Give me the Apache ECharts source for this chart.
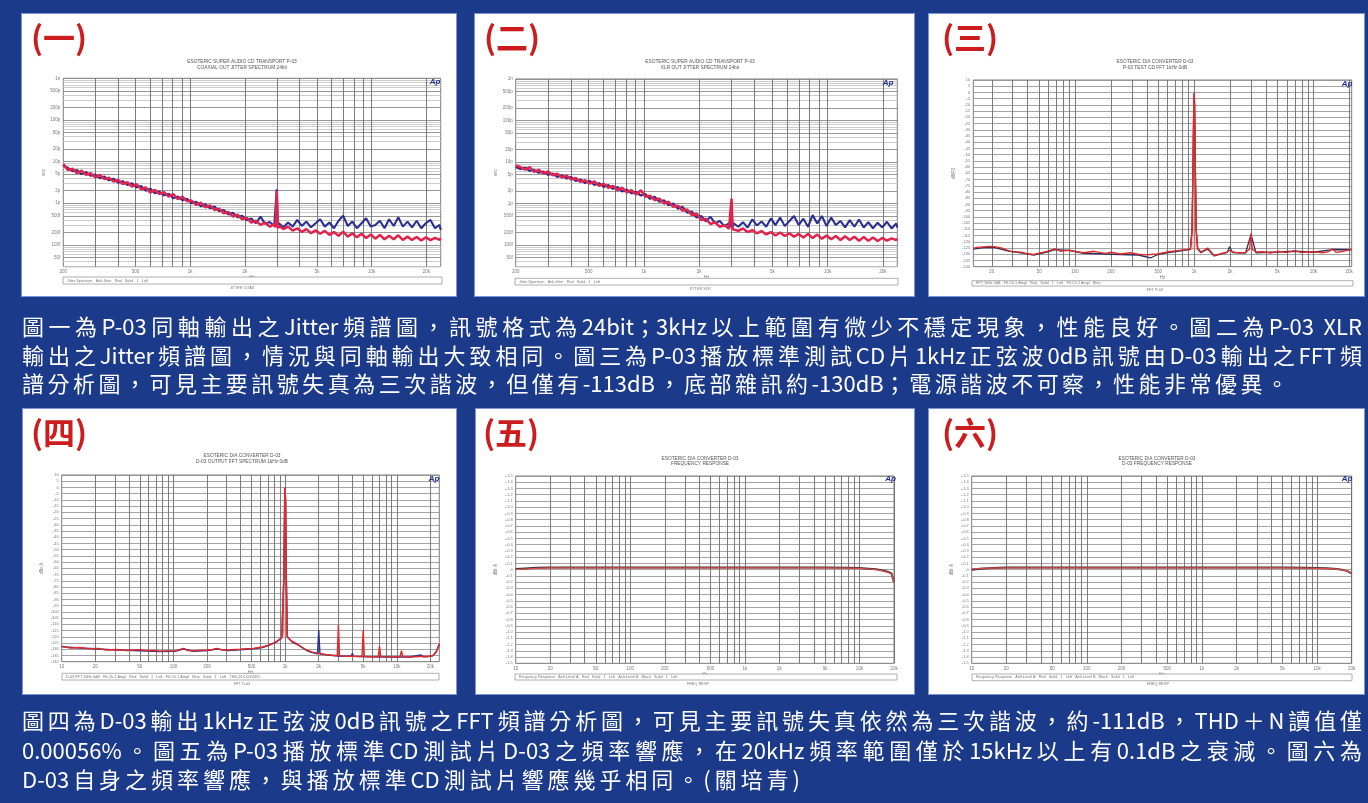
<!DOCTYPE html>
<html>
<head>
<meta charset="utf-8">
<title>P-03 / D-03 量測圖</title>
<script src="https://cdn.jsdelivr.net/npm/echarts@6/dist/echarts.min.js"></script>
<style>
  html, body { margin: 0; padding: 0; background: #1c3a8a; }
  #page { position: relative; width: 1368px; height: 803px; overflow: hidden; background: #1c3a8a; }
  .panel { position: absolute; background: #fff; border: 1px solid #7d95d6; box-sizing: border-box; }
  #chart { position: absolute; left: 0; top: 0; width: 1368px; height: 803px; }
  .cap { position: absolute; left: 22px; width: 1340px; color: #fff; white-space: nowrap;
         font-family: "Noto Sans CJK TC", "Noto Sans CJK SC", sans-serif; font-size: 22px; line-height: 28px;
         text-align: justify; text-align-last: justify; }
</style>
</head>
<body>
<div id="page">
  <div class="panel" style="left:21px;top:13px;width:436px;height:284px"></div>
  <div class="panel" style="left:474px;top:13px;width:441px;height:284px"></div>
  <div class="panel" style="left:928px;top:13px;width:437px;height:284px"></div>
  <div class="panel" style="left:22px;top:408px;width:435px;height:287px"></div>
  <div class="panel" style="left:475px;top:408px;width:440px;height:287px"></div>
  <div class="panel" style="left:928px;top:408px;width:437px;height:287px"></div>
  <div id="chart"></div>
  <div class="cap" style="top:311px">圖一為P-03同軸輸出之Jitter頻譜圖，訊號格式為24bit；3kHz以上範圍有微少不穩定現象，性能良好。圖二為P-03 XLR</div>
  <div class="cap" style="top:339.5px">輸出之Jitter頻譜圖，情況與同軸輸出大致相同。圖三為P-03播放標準測試CD片1kHz正弦波0dB訊號由D-03輸出之FFT頻</div>
  <div class="cap" style="top:368px;width:1266px">譜分析圖，可見主要訊號失真為三次諧波，但僅有-113dB，底部雜訊約-130dB；電源諧波不可察，性能非常優異。</div>
  <div class="cap" style="top:705px">圖四為D-03輸出1kHz正弦波0dB訊號之FFT頻譜分析圖，可見主要訊號失真依然為三次諧波，約-111dB，THD＋N讀值僅</div>
  <div class="cap" style="top:734.5px">0.00056%。圖五為P-03播放標準CD測試片D-03之頻率響應，在20kHz頻率範圍僅於15kHz以上有0.1dB之衰減。圖六為</div>
  <div class="cap" style="top:763.5px;width:778px">D-03自身之頻率響應，與播放標準CD測試片響應幾乎相同。(關培青)</div>
</div>
<script>
// ---------- Jitter spectra (Hz, picoseconds) ----------
const jitterFreq = [200,212,225,238,252,267,283,300,318,337,357,379,401,425,451,478,506,537,569,603,
  639,677,718,761,807,855,906,961,1018,1079,1144,1213,1285,1362,1444,1531,1623,1720,1823,1933,
  2049,2172,2302,2440,2586,2741,2906,2960,3000,3040,3080,3265,3461,3669,3889,4122,4370,4632,4910,5204,
  5517,5848,6198,6570,6965,7382,7825,8295,8792,9320,9879,10472,11100,11766,12472,13220,14013,14854,15745,16690,
  17691,18753,19878,21071,22335,23675,24000];

const coaxRed = [8.8,6.31,6.8,5.25,6.1,4.79,5.25,4.2,4.79,3.8,
  4.1,3.31,3.63,2.9,3.2,2.51,2.9,2.17,2.4,1.8,
  2.09,1.65,1.85,1.45,1.65,1.25,1.45,1.12,1.16,0.912,
  1.04,0.80,0.89,0.692,0.745,0.575,0.62,0.479,0.535,0.413,
  0.445,0.345,0.383,0.302,0.345,0.275,0.31,0.265,2.0,0.251,
  0.285,0.24,0.275,0.22,0.251,0.205,0.24,0.191,0.225,0.185,
  0.217,0.174,0.205,0.165,0.209,0.158,0.191,0.152,0.185,0.147,
  0.178,0.141,0.174,0.137,0.165,0.137,0.17,0.132,0.158,0.132,
  0.155,0.127,0.152,0.13,0.148,0.132,0.145];

const coaxBlue = [7.8,7.1,5.9,6.31,5.0,5.6,4.55,4.9,3.98,4.37,
  3.55,3.9,3.1,3.4,2.75,3.02,2.4,2.6,2.0,2.25,
  1.74,1.91,1.55,1.7,1.32,1.45,1.18,1.29,1.0,1.08,
  0.85,0.95,0.759,0.832,0.64,0.692,0.535,0.59,0.46,0.5,
  0.39,0.43,0.331,0.479,0.32,0.355,0.285,0.302,2.17,0.275,
  0.331,0.265,0.345,0.275,0.398,0.285,0.363,0.265,0.331,0.413,
  0.275,0.345,0.251,0.38,0.5,0.285,0.363,0.251,0.331,0.437,
  0.275,0.302,0.38,0.251,0.413,0.285,0.46,0.275,0.363,0.265,
  0.38,0.251,0.331,0.398,0.251,0.302,0.229];

const xlrRed = [8.32,7.59,6.5,7.59,5.75,6.5,5.25,5.9,4.79,5.25,
  4.2,4.7,3.8,4.1,3.31,3.63,3.02,3.4,2.65,3.02,
  2.4,2.65,2.09,2.4,1.85,2.09,1.65,2.09,1.45,1.55,
  1.2,1.32,1.0,1.1,0.832,0.89,0.67,0.72,0.525,0.575,
  0.398,0.43,0.32,0.355,0.275,0.302,0.247,0.275,1.32,0.24,
  0.265,0.22,0.251,0.205,0.229,0.191,0.217,0.18,0.205,0.17,
  0.2,0.165,0.191,0.158,0.185,0.152,0.185,0.147,0.178,0.141,
  0.17,0.137,0.165,0.132,0.162,0.132,0.158,0.127,0.155,0.127,
  0.152,0.125,0.148,0.127,0.145,0.132,0.141];

const xlrBlue = [7.59,6.8,7.3,6.1,6.5,5.5,5.9,4.9,5.25,4.37,
  4.79,3.98,4.37,3.5,3.8,3.1,3.5,2.8,3.1,2.51,
  2.8,2.25,2.51,1.95,2.17,1.74,1.91,1.55,1.7,1.29,
  1.45,1.1,1.2,0.912,1.0,0.745,0.832,0.6,0.64,0.46,
  0.5,0.37,0.479,0.331,0.38,0.285,0.331,0.275,0.692,0.265,
  0.331,0.275,0.355,0.265,0.413,0.296,0.37,0.275,0.437,0.302,
  0.46,0.285,0.38,0.5,0.302,0.43,0.275,0.525,0.331,0.5,
  0.285,0.46,0.302,0.38,0.265,0.398,0.275,0.413,0.265,0.355,
  0.251,0.345,0.265,0.363,0.251,0.331,0.265];

// ---------- FFT spectra (Hz, dB) ----------
const fft3Red = [[14,-125.2],[15,-124.5],[17,-124.0],[19,-123.6],[21,-123.9],[24,-124.8],[27,-126.6],[29,-127.9],
  [35,-128.3],[39,-129.5],[45,-130.2],[49,-129.3],[58,-127.6],[68,-125.6],[75,-127.6],[90,-126.6],[100,-127.6],
  [118,-128.8],[144,-127.6],[180,-129.3],[200,-128.2],[240,-129.8],[290,-128.8],[340,-130.0],[390,-130.5],
  [430,-130.2],[490,-129.8],[585,-128.2],[725,-127.1],[880,-126.0],[930,-125.5],[960,-110],[980,-50],[992,-8],
  [1000,-0.5],[1008,-8],[1020,-50],[1040,-110],[1070,-125.0],[1140,-128.2],[1300,-125.0],[1470,-131.0],
  [1680,-129.5],[1900,-128.0],[2000,-126.8],[2100,-128.2],[2400,-129.0],[2700,-128.5],[2920,-126],[3000,-113.2],
  [3080,-126],[3300,-128.2],[3800,-128.0],[4400,-129],[5000,-127.6],[6000,-128.5],[7000,-127.0],[8000,-128.6],
  [9000,-128.2],[10000,-127.9],[12000,-128.8],[13500,-127.8],[14500,-125.5],[15500,-128.5],[17000,-128.0],
  [19000,-127.0],[21000,-125.8]];

const fft3Dark = [[14,-125.8],[17,-124.6],[21,-124.4],[27,-127.2],[35,-128.8],[45,-130.6],[58,-128.2],[68,-126.2],
  [90,-127.0],[118,-129.2],[180,-129.8],[240,-130.2],[340,-130.6],[430,-133.0],[490,-130.4],[585,-128.8],
  [725,-127.6],[880,-126.5],[930,-126],[960,-111],[980,-52],[992,-9],[1000,-1],[1008,-9],[1020,-52],[1040,-111],
  [1070,-125.6],[1140,-128.8],[1300,-125.8],[1470,-131.4],[1900,-128.5],[1980,-124],[2000,-122.5],[2020,-124],
  [2100,-128.6],[2700,-129],[3000,-114],[3300,-128.8],[5000,-128.2],[7000,-127.6],[10000,-128.4],[14500,-126.2],
  [21000,-126.4]];

const fft4Red = [[10,-127.5],[11.9,-129],[14.6,-128.6],[17,-129.5],[21,-129.3],[25,-130.6],[31,-130.2],[38,-131],
  [44,-130.6],[51,-130.3],[58,-131.2],[66,-130.9],[76,-131.5],[87,-131.3],[103,-131.3],[112,-130.5],[123,-129.3],
  [135,-131],[151,-131.3],[175,-130.8],[203,-130.6],[225,-130.2],[244,-129.3],[270,-130.5],[311,-130.6],
  [350,-130.2],[395,-130.0],[450,-129.6],[520,-129.3],[580,-128.6],[627,-128.2],[690,-127.2],[734,-126.0],
  [800,-124.6],[842,-123.5],[890,-122.0],[933,-120.6],[955,-119],[975,-70],[990,-10],[1000,0],[1010,-10],
  [1025,-70],[1045,-119.5],[1070,-121.2],[1150,-123.5],[1270,-125.5],[1400,-128],[1560,-130.6],[1750,-132.3],
  [2050,-133.5],[2300,-134.2],[2530,-134.6],[2800,-135.0],[2930,-135.2],[3000,-110.5],[3070,-135.3],[3500,-135.6],
  [4100,-135.6],[4600,-135.8],[4880,-135.8],[5000,-114.5],[5120,-135.8],[6000,-136.0],[6830,-136],[7000,-127.5],
  [7170,-136],[8500,-136.1],[10000,-136],[10700,-136],[11000,-131.2],[11300,-136],[13000,-136.2],[15000,-136],
  [17000,-135.6],[19000,-135.8],[21000,-135],[22500,-132],[24000,-125.5]];

const fft4Blue = [[10,-128],[14.6,-129],[21,-129.8],[31,-130.6],[44,-131],[58,-131.5],[76,-131.8],[103,-131.6],
  [123,-129.8],[151,-131.6],[203,-131],[244,-129.8],[311,-131],[395,-130.4],[520,-129.7],[627,-128.6],[734,-126.4],
  [842,-124],[933,-121],[955,-119.5],[975,-72],[990,-12],[1000,-0.5],[1010,-12],[1025,-72],[1045,-120],
  [1070,-121.6],[1150,-124],[1270,-126],[1560,-131],[1750,-132.6],[1950,-133.6],[2000,-114.5],[2050,-133.8],
  [2530,-134.8],[3000,-135.4],[3500,-135.6],[3900,-135.6],[4000,-133.3],[4100,-135.7],[5000,-135.9],[6000,-136.1],
  [8500,-136.2],[10000,-136.1],[13000,-136.2],[16500,-134.6],[17200,-136],[19000,-135.9],[21000,-135.2],
  [22500,-132.4],[24000,-126]];

// ---------- Frequency responses (Hz, dB) ----------
const resp5Freq = [10,12,15,20,30,50,100,200,500,1000,2000,5000,8000,10000,12000,14000,15000,16000,17000,18000,19000,19500,20000];
const resp5Red  = [0.0,0.01,0.02,0.03,0.03,0.03,0.03,0.03,0.03,0.03,0.03,0.03,0.025,0.02,0.01,0.0,-0.01,-0.02,-0.035,-0.05,-0.07,-0.1,-0.19];
const resp5Dark = [0.01,0.02,0.03,0.035,0.035,0.035,0.035,0.035,0.035,0.035,0.035,0.035,0.03,0.025,0.015,0.005,-0.005,-0.015,-0.025,-0.04,-0.06,-0.09,-0.2];

const resp6Freq = [10,12,15,20,30,50,100,200,500,1000,2000,5000,8000,10000,12000,14000,16000,17000,18000,19000,20000];
const resp6Red  = [0.01,0.02,0.025,0.03,0.03,0.03,0.03,0.03,0.03,0.03,0.03,0.03,0.025,0.022,0.018,0.012,0.0,-0.01,-0.02,-0.035,-0.06];
const resp6Dark = [0.0,0.015,0.025,0.035,0.035,0.035,0.035,0.035,0.035,0.035,0.035,0.035,0.03,0.027,0.022,0.015,0.003,-0.008,-0.02,-0.038,-0.065];

// ---------- Grid lines and tick labels ----------
const jitterGridX  = [300,400,500,600,700,800,900,1000,2000,3000,4000,5000,6000,7000,8000,9000,10000,20000];
const jitterLabelX = [200,500,1000,2000,5000,10000,20000];
const audioGridX   = [20,30,40,50,60,70,80,90,100,200,300,400,500,600,700,800,900,
                      1000,2000,3000,4000,5000,6000,7000,8000,9000,10000,20000];
const audioLabelX  = [10,20,50,100,200,500,1000,2000,5000,10000,20000];
const jitterMajorY = [1000,500,200,100,50,20,10,5,2,1,0.5,0.2,0.1,0.05];
const jitterMinorY = [900,800,700,600,400,300,90,80,70,60,40,30,9,8,7,6,4,3,
                      0.9,0.8,0.7,0.6,0.4,0.3,0.09,0.08,0.07,0.06,0.04,0.03];

// ---------- Helpers ----------
const TINY = '"Liberation Sans", Arial, sans-serif';
const LABEL_GRAY = '#7a7a7a';
const pair = (xs, ys) => xs.map((x, i) => [x, ys[i]]);
const fmtHz = v => v >= 1000 ? (v / 1000) + 'k' : String(v);
const fmtPs = v => v >= 1000 ? (v / 1000) + 'n' : (v >= 1 ? Math.round(v) + 'p' : Math.round(v * 1000) + 'f');
const fmtDb1 = v => (v > 0.001 ? '+' : '') + (Math.abs(v) < 0.001 ? '0' : v.toFixed(1));

const option = {
  animation: false,
  backgroundColor: 'transparent',
  grid: [], xAxis: [], yAxis: [], series: [],
  graphic: { elements: [] }
};

function xLog(gi, min, max, grid, labels) {
  return {
    type: 'log', logBase: 10, gridIndex: gi, min: min, max: max,
    axisLine: { show: false },
    axisTick: { show: false, customValues: grid },
    splitLine: { show: true, lineStyle: { color: '#6e6e6e', width: 0.9 } },
    axisLabel: { customValues: labels, formatter: fmtHz, fontSize: 4.5, color: LABEL_GRAY, margin: 3, fontFamily: TINY },
    name: 'Hz', nameLocation: 'middle', nameGap: 9,
    nameTextStyle: { fontSize: 4.5, color: LABEL_GRAY, fontFamily: TINY }
  };
}

function yName(name) {
  return { name: name, nameLocation: 'middle', nameGap: 17, nameRotate: 90,
           nameTextStyle: { fontSize: 4.5, color: LABEL_GRAY, fontFamily: TINY } };
}

function jitterY(gi) {
  return [
    Object.assign({
      type: 'log', logBase: 10, gridIndex: gi, min: 0.03, max: 1000, position: 'left',
      axisLine: { show: false },
      axisTick: { show: false, customValues: jitterMajorY },
      splitLine: { show: true, lineStyle: { color: '#8c8c8c', width: 0.9 } },
      axisLabel: { customValues: jitterMajorY, formatter: fmtPs, fontSize: 4.5, color: LABEL_GRAY, margin: 3, fontFamily: TINY }
    }, yName('sec')),
    {
      type: 'log', logBase: 10, gridIndex: gi, min: 0.03, max: 1000, position: 'left',
      axisLine: { show: false },
      axisTick: { show: false, customValues: jitterMinorY },
      axisLabel: { show: false },
      splitLine: { show: true, lineStyle: { color: '#c6c6c6', width: 0.9 } }
    }
  ];
}

function dbY(gi, min, max, step, fmt, name) {
  return [Object.assign({
    type: 'value', gridIndex: gi, min: min, max: max, interval: step,
    axisLine: { show: false }, axisTick: { show: false },
    splitLine: { show: true, lineStyle: { color: '#8e8e8e', width: 0.8 } },
    axisLabel: { fontSize: 4, color: LABEL_GRAY, margin: 3, fontFamily: TINY, formatter: fmt }
  }, yName(name))];
}

function addPlot(p) {
  const gi = option.grid.length;
  option.grid.push(Object.assign({
    show: true, backgroundColor: '#ffffff', borderColor: '#7c7c7c', borderWidth: 1,
    containLabel: false, outerBoundsMode: 'none'
  }, p.rect));
  option.xAxis.push(p.x(gi));
  const yi = option.yAxis.length;
  p.y(gi).forEach(a => option.yAxis.push(a));
  p.series.forEach(s => option.series.push(Object.assign({
    type: 'line', xAxisIndex: gi, yAxisIndex: yi, showSymbol: false, symbol: 'none',
    silent: true, animation: false, clip: true
  }, s)));

  // title, legend strip, file label, Ap mark, panel number
  const g = option.graphic.elements;
  const t = (text, x, y, font, fill, align) => g.push({
    type: 'text', x: x, y: y, z: 100, silent: true,
    style: { text: text, font: font, fill: fill, textAlign: align || 'center', textVerticalAlign: 'middle',
             align: align || 'center', verticalAlign: 'middle' }
  });
  t(p.title[0], p.titleX, p.titleY, '4.8px ' + TINY, '#555');
  t(p.title[1], p.titleX, p.titleY + 5.2, '4.8px ' + TINY, '#555');
  g.push({ type: 'rect', z: 100, silent: true,
           shape: { x: p.legend[0], y: p.legend[1], width: p.legend[2], height: p.legend[3] },
           style: { fill: '#fff', stroke: '#9a9a9a', lineWidth: 0.8 } });
  t(p.legendText, p.legend[0] + 4, p.legend[1] + p.legend[3] / 2, '3.8px ' + TINY, '#777', 'left');
  t(p.file, p.fileX, p.fileY, '3.8px ' + TINY, '#777');
  t('Ap', p.ap[0], p.ap[1], 'italic bold 8px ' + TINY, '#1f2f8f');
  t(p.num, p.numPos[0], p.numPos[1], 'bold 32px "Noto Sans CJK TC", sans-serif', '#cc1c1e', 'left');
}

// (一) P-03 coaxial jitter
addPlot({
  rect: { left: 63.3, top: 78.3, width: 377.4, height: 188.4 },
  x: gi => xLog(gi, 200, 24000, jitterGridX, jitterLabelX),
  y: jitterY,
  series: [
    { name: 'Ch.2', data: pair(jitterFreq, coaxBlue), lineStyle: { color: '#2c2f92', width: 2.1 } },
    { name: 'Ch.1', data: pair(jitterFreq, coaxRed), lineStyle: { color: '#e3234c', width: 2.5 } }
  ],
  title: ['ESOTERIC SUPER AUDIO CD TRANSPORT P-03', 'COAXIAL OUT JITTER SPECTRUM 24bit'],
  titleX: 242, titleY: 62,
  legend: [63, 277, 379, 7], legendText: 'Jitter Spectrum   Anlr.Jitter   Red   Solid   1   Left',
  file: 'JITTER COAX', fileX: 242, fileY: 288,
  ap: [435, 82], num: '(一)', numPos: [31, 38]
});

// (二) P-03 XLR jitter
addPlot({
  rect: { left: 515.7, top: 79, width: 381.6, height: 187.7 },
  x: gi => xLog(gi, 200, 24000, jitterGridX, jitterLabelX),
  y: jitterY,
  series: [
    { name: 'Ch.2', data: pair(jitterFreq, xlrBlue), lineStyle: { color: '#2c2f92', width: 2.1 } },
    { name: 'Ch.1', data: pair(jitterFreq, xlrRed), lineStyle: { color: '#e3234c', width: 2.5 } }
  ],
  title: ['ESOTERIC SUPER AUDIO CD TRANSPORT P-03', 'XLR OUT JITTER SPECTRUM 24bit'],
  titleX: 700, titleY: 62,
  legend: [515, 278.3, 383, 6.7], legendText: 'Jitter Spectrum   Anlr.Jitter   Red   Solid   1   Left',
  file: 'JITTER XLR', fileX: 700, fileY: 288.5,
  ap: [888, 83], num: '(二)', numPos: [484, 38]
});

// (三) P-03 test CD through D-03, FFT
addPlot({
  rect: { left: 973.3, top: 80, width: 378.4, height: 186.7 },
  x: gi => xLog(gi, 14, 21000, audioGridX, audioLabelX),
  y: gi => dbY(gi, -140, 10, 5, null, 'dBFS'),
  series: [
    { name: 'Ch.2', data: fft3Dark, lineStyle: { color: '#2d2d5c', width: 1.3 } },
    { name: 'Ch.1', data: fft3Red, lineStyle: { color: '#e02b2b', width: 1.3 } },
    { name: '1kHz', data: fft3Red.filter(d => d[0] >= 930 && d[0] <= 1070),
      lineStyle: { color: '#e02b2b', width: 1 },
      areaStyle: { color: 'rgba(236,130,120,0.55)', origin: -127 } }
  ],
  title: ['ESOTERIC D/A CONVERTER D-03', 'P-03 TEST CD FFT 1kHz 0dB'],
  titleX: 1155, titleY: 62,
  legend: [972, 280.7, 381, 5.3], legendText: 'FFT 1kHz 0dB   Fft.Ch.1 Ampl   Red   Solid   1   Left   Fft.Ch.2 Ampl   Blue',
  file: 'FFT P-03', fileX: 1155, fileY: 289.5,
  ap: [1347, 84], num: '(三)', numPos: [942, 38]
});

// (四) D-03 output FFT
addPlot({
  rect: { left: 61.7, top: 475, width: 377.6, height: 186.7 },
  x: gi => xLog(gi, 10, 24000, audioGridX, audioLabelX),
  y: gi => dbY(gi, -140, 10, 5, null, 'dBr A'),
  series: [
    { name: 'Ch.2', data: fft4Blue, lineStyle: { color: '#28318f', width: 1.4 } },
    { name: 'Ch.1', data: fft4Red, lineStyle: { color: '#e02b2b', width: 1.4 } },
    { name: '1kHz', data: fft4Red.filter(d => d[0] >= 955 && d[0] <= 1045),
      lineStyle: { color: '#e02b2b', width: 1 },
      areaStyle: { color: 'rgba(236,140,130,0.5)', origin: -121 } }
  ],
  title: ['ESOTERIC D/A CONVERTER D-03', 'D-03 OUTPUT FFT SPECTRUM 1kHz 0dB'],
  titleX: 242, titleY: 456,
  legend: [62, 673.3, 377, 6.7],
  legendText: 'D-03 FFT 1kHz 0dB   Fft.Ch.1 Ampl   Red   Solid   1   Left   Fft.Ch.2 Ampl   Blue   Solid   1   Left   THD+N 0.00056%',
  file: 'FFT D-03', fileX: 242, fileY: 683.5,
  ap: [434, 478.5], num: '(四)', numPos: [31, 433]
});

// (五) P-03 + D-03 frequency response
addPlot({
  rect: { left: 515.7, top: 476, width: 378.3, height: 187.3 },
  x: gi => xLog(gi, 10, 20000, audioGridX, audioLabelX),
  y: gi => dbY(gi, -1.5, 1.5, 0.1, fmtDb1, 'dBr A'),
  series: [
    { name: 'Ch.2', data: pair(resp5Freq, resp5Dark), lineStyle: { color: '#3a3a3a', width: 2 } },
    { name: 'Ch.1', data: pair(resp5Freq, resp5Red), lineStyle: { color: '#e24848', width: 1.2 } }
  ],
  title: ['ESOTERIC D/A CONVERTER D-03', 'FREQUENCY RESPONSE'],
  titleX: 700, titleY: 458.5,
  legend: [515, 674, 382, 6],
  legendText: 'Frequency Response   Anlr.Level A   Red   Solid   1   Left   Anlr.Level B   Black   Solid   1   Left',
  file: 'FREQ RESP', fileX: 698, fileY: 684,
  ap: [890.5, 479], num: '(五)', numPos: [483, 433]
});

// (六) D-03 frequency response
addPlot({
  rect: { left: 971.7, top: 476, width: 380, height: 187.3 },
  x: gi => xLog(gi, 10, 20000, audioGridX, audioLabelX),
  y: gi => dbY(gi, -1.5, 1.5, 0.1, fmtDb1, 'dBr A'),
  series: [
    { name: 'Ch.2', data: pair(resp6Freq, resp6Dark), lineStyle: { color: '#3a3a3a', width: 2 } },
    { name: 'Ch.1', data: pair(resp6Freq, resp6Red), lineStyle: { color: '#e24848', width: 1.2 } }
  ],
  title: ['ESOTERIC D/A CONVERTER D-03', 'D-03 FREQUENCY RESPONSE'],
  titleX: 1157, titleY: 458.5,
  legend: [972, 674, 380, 6.7],
  legendText: 'Frequency Response   Anlr.Level A   Red   Solid   1   Left   Anlr.Level B   Black   Solid   1   Left',
  file: 'FREQ RESP', fileX: 1158, fileY: 684,
  ap: [1347, 479], num: '(六)', numPos: [942, 433]
});

const chart = echarts.init(document.getElementById('chart'), null, { renderer: 'canvas' });
chart.setOption(option);
</script>
</body>
</html>
